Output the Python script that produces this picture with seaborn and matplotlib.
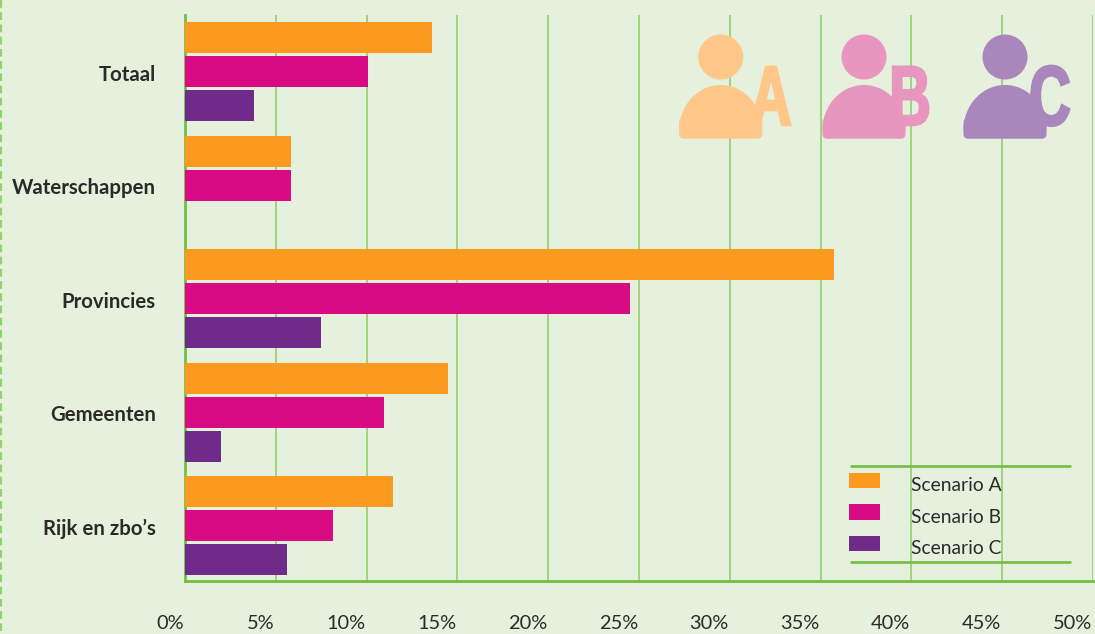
import matplotlib
matplotlib.use("Agg")
import matplotlib.pyplot as plt
from matplotlib.patches import Circle, Polygon, FancyBboxPatch
from matplotlib.lines import Line2D
from matplotlib.patheffects import AbstractPathEffect
from matplotlib.transforms import Affine2D, ScaledTranslation
import numpy as np
import pandas as pd
import seaborn as sns

categories = ["Totaal", "Waterschappen", "Provincies", "Gemeenten", "Rijk en zbo’s"]
scenario_a = [13.6, 5.85, 35.75, 14.5, 11.45]
scenario_b = [10.1, 5.85, 24.5, 10.95, 8.15]
scenario_c = [3.8, np.nan, 7.5, 2.0, 5.6]
scenarios = ["Scenario A", "Scenario B", "Scenario C"]
bar_colors = ["#FB9A1F", "#D80B84", "#6F2A8A"]
icon_colors = ["#FFC88A", "#E896C0", "#A986BC"]
icon_letters = ["A", "B", "C"]
x_ticks = list(range(0, 51, 5))
x_labels = [f"{v}%" for v in x_ticks]

BG = "#E6F1DD"
GREEN = "#72BF44"
GRID = "#8CCB68"
TEXT = "#2A2A2A"
W, H = 1095, 634


class SqueezeX(AbstractPathEffect):
    """Narrow a text horizontally around a pixel x position and thicken it."""
    def __init__(self, anchor_x, scale, stroke):
        super().__init__()
        self.anchor_x, self.scale, self.stroke = anchor_x, scale, stroke

    def draw_path(self, renderer, gc, tpath, affine, rgbFace=None):
        squeeze = Affine2D().translate(-self.anchor_x, 0).scale(self.scale, 1).translate(self.anchor_x, 0)
        gc0 = renderer.new_gc()
        gc0.copy_properties(gc)
        gc0.set_foreground(rgbFace)
        gc0.set_linewidth(self.stroke)
        gc0.set_joinstyle("miter")
        renderer.draw_path(gc0, tpath, affine + squeeze, rgbFace)
        gc0.restore()


sns.set_theme(style="white")
plt.rcParams["font.family"] = ["Lato", "DejaVu Sans"]

df = pd.DataFrame({
    "categorie": categories * 3,
    "scenario": np.repeat(scenarios, len(categories)),
    "waarde": scenario_a + scenario_b + scenario_c,
})

fig = plt.figure(figsize=(W / 100, H / 100), dpi=100, facecolor=BG)
ax = fig.add_axes([185 / W, 1 - 581 / H, (1093 - 185) / W, (581 - 15) / H], facecolor=BG)

sns.barplot(data=df, x="waarde", y="categorie", hue="scenario", order=categories,
            hue_order=scenarios, palette=bar_colors, orient="y", width=0.9, gap=0.09,
            saturation=1, linewidth=0, errorbar=None, ax=ax, zorder=3)

ax.set_xlim(0, 50)
ax.set_ylim(4.485, -0.5)
ax.set_xlabel("")
ax.set_ylabel("")
ax.set_xticks(x_ticks)
ax.set_xticklabels(x_labels, ha="right", fontsize=14.4, color=TEXT)
ax.tick_params(axis="x", length=0, pad=24.5)
ax.tick_params(axis="y", length=0, pad=21)
shift_x = ScaledTranslation(-1 / 100, 0, fig.dpi_scale_trans)
for lab in ax.get_xticklabels():
    lab.set_transform(lab.get_transform() + shift_x)
shift_y = ScaledTranslation(0, -1 / 100, fig.dpi_scale_trans)
for lab in ax.get_yticklabels():
    lab.set_fontsize(14.7)
    lab.set_fontweight("bold")
    lab.set_color(TEXT)
    lab.set_transform(lab.get_transform() + shift_y)
ax.xaxis.grid(True, color=GRID, linewidth=1.1)
ax.yaxis.grid(False)
ax.set_axisbelow(True)
for side in ["top", "right"]:
    ax.spines[side].set_visible(False)
for side in ["left", "bottom"]:
    ax.spines[side].set_color(GREEN)
    ax.spines[side].set_linewidth(2.0)
    ax.spines[side].set_zorder(2)

handles, labels = ax.get_legend_handles_labels()
leg = ax.legend(handles, labels, loc="upper left",
                bbox_to_anchor=((849 - 185) / 908, (581 - 473) / 566),
                frameon=False, fontsize=13.9, labelcolor=TEXT, borderpad=0, borderaxespad=0,
                handlelength=1.6, handleheight=0.83, handletextpad=1.6, labelspacing=0.73)
for t in leg.get_texts():
    t.set_position((0, -4))

# Overlay in pixel coordinates for decoration
ov = fig.add_axes([0, 0, 1, 1], facecolor="none")
ov.set_xlim(0, W)
ov.set_ylim(H, 0)
ov.axis("off")
ov.set_zorder(10)

for y in (465.7, 561.7):
    ov.add_line(Line2D([850, 1071], [y, y], color=GREEN, linewidth=1.9, solid_capstyle="butt"))
ov.add_line(Line2D([0.8, 0.8], [0, H], color="#8FD46A", linewidth=1.6, linestyle=(0, (3.5, 2))))

for cx, col, letter, lx in zip((720.7, 864, 1005), icon_colors, icon_letters, (771, 910, 1050)):
    ov.text(lx, 125, letter, color=col, fontsize=61, fontweight="bold", ha="center", va="baseline",
            family="Liberation Sans", zorder=2, path_effects=[SqueezeX(lx, 0.68, 1.8)])
    ov.add_patch(Circle((cx, 57), 22.5, facecolor=col, edgecolor="none", zorder=3))
    t = np.linspace(np.pi, 0, 80)
    dome = np.column_stack([cx + 41.5 * np.cos(t), 130 - 45 * np.sin(t)])
    ov.add_patch(Polygon(dome, closed=True, facecolor=col, edgecolor="none", zorder=3))
    ov.add_patch(FancyBboxPatch((cx - 37.5, 122), 75, 12.7, boxstyle="round,pad=0,rounding_size=0.1",
                                facecolor=col, edgecolor=col, linewidth=8 * 0.72, joinstyle="round", zorder=3))

fig.savefig("out.png", dpi=100, facecolor=BG)
